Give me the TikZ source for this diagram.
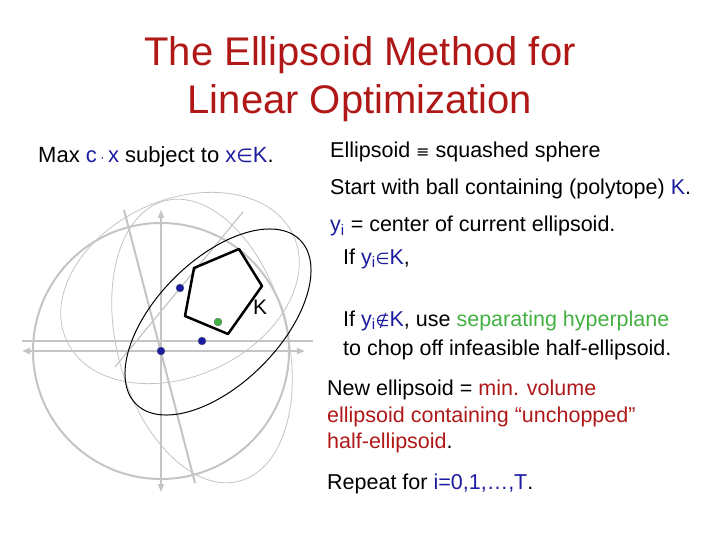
\documentclass[tikz,border=0pt]{standalone}
\usepackage{fontspec}
\setmainfont{Liberation Sans}
\newfontfamily\symf{DejaVu Sans}
\usetikzlibrary{arrows.meta}
\definecolor{ttl}{HTML}{B01818}
\definecolor{bl}{HTML}{1C1CA0}
\definecolor{gr}{HTML}{44B044}
\definecolor{gy}{HTML}{C4C4C4}
\newcommand{\smsym}[1]{{\symf\fontsize{16}{16}\selectfont #1}}
\begin{document}
\begin{tikzpicture}[x=1pt,y=-1pt,
  tx/.style={anchor=base west,inner sep=0pt},
  dot/.style={circle,fill=bl,draw=black!60,line width=0.3pt,minimum size=8pt,inner sep=0pt},
  thin gray/.style={draw=gy,line width=0.8pt},
  thick gray/.style={draw=gy,line width=2pt}]
\useasboundingbox (0,0) rectangle (720,540);
% title
\node[text=ttl,font=\fontsize{40}{44}\selectfont] (t1) at (360,55) {The Ellipsoid Method for};
\node[text=ttl,font=\fontsize{40}{44}\selectfont] (t2) at (360,103) {Linear Optimization};
% drawing
\draw[thin gray,rotate around={25:(180,288)}] (180,288) ellipse (125 and 88);
\draw[thin gray,rotate around={105:(202,341)}] (202,341) ellipse (145 and 85);
\draw[thick gray] (161,351) circle (128);
\draw[thick gray,{Triangle[length=8pt,width=6pt]}-{Triangle[length=8pt,width=6pt]}] (22,351) -- (305,351);
\draw[thin gray,line width=1.2pt,{Triangle[length=8pt,width=6pt]}-{Triangle[length=8pt,width=6pt]}] (161,210) -- (161,492);
\draw[thick gray] (22,341) -- (313,341);
\draw[thick gray] (124,210) -- (195,483);
\draw[thin gray,line width=1.2pt] (115,367) -- (243,212);
\draw[black,line width=1pt,rotate around={45:(218,322)}] (218,322) ellipse (116 and 62);
\draw[black,line width=2.5pt,line join=round] (194,268) -- (239,249) -- (262,286) -- (228,334) -- (185,316) -- cycle;
\node[tx,font=\fontsize{21}{22}\selectfont] (k) at (253,314) {K};
\node[dot] (d1) at (180,288) {};
\node[dot] (d2) at (202,341) {};
\node[dot] (d3) at (161,351) {};
\node[dot,fill=gr] (d4) at (218,322) {};
% texts
\node[tx,font=\fontsize{22}{22}\selectfont] (m) at (38,163) {Max \textcolor{bl}{c\,{\symf\fontsize{12}{12}\selectfont·}\,x} subject to \textcolor{bl}{x{\symf\fontsize{19}{19}\selectfont∈}K}.};
\begin{scope}[every node/.style={tx,font=\fontsize{21.5}{22}\selectfont}]
\node (a1) at (330,158) {Ellipsoid \smsym{≡} squashed sphere};
\node (a2) at (330,195) {Start with ball containing (polytope) \textcolor{bl}{K}.};
\node (a3) at (330,232) {\textcolor{bl}{y\textsubscript{i}} = center of current ellipsoid.};
\node (a4) at (343,264) {If \textcolor{bl}{y\textsubscript{i}\smsym{∈}K},};
\node (a5) at (343,326) {If \textcolor{bl}{y\textsubscript{i}\smsym{∉}K}, use \textcolor{gr}{separating hyperplane}};
\node (a6) at (343,355) {to chop off infeasible half-ellipsoid.};
\node (a7) at (327,395) {New ellipsoid = \textcolor{ttl}{min. volume}};
\node (a8) at (327,422) {\textcolor{ttl}{ellipsoid containing “unchopped”}};
\node (a9) at (327,448) {\textcolor{ttl}{half-ellipsoid}.};
\node (a10) at (327,489) {Repeat for \textcolor{bl}{i=0,1,…,T}.};
\end{scope}
\end{tikzpicture}
\end{document}
